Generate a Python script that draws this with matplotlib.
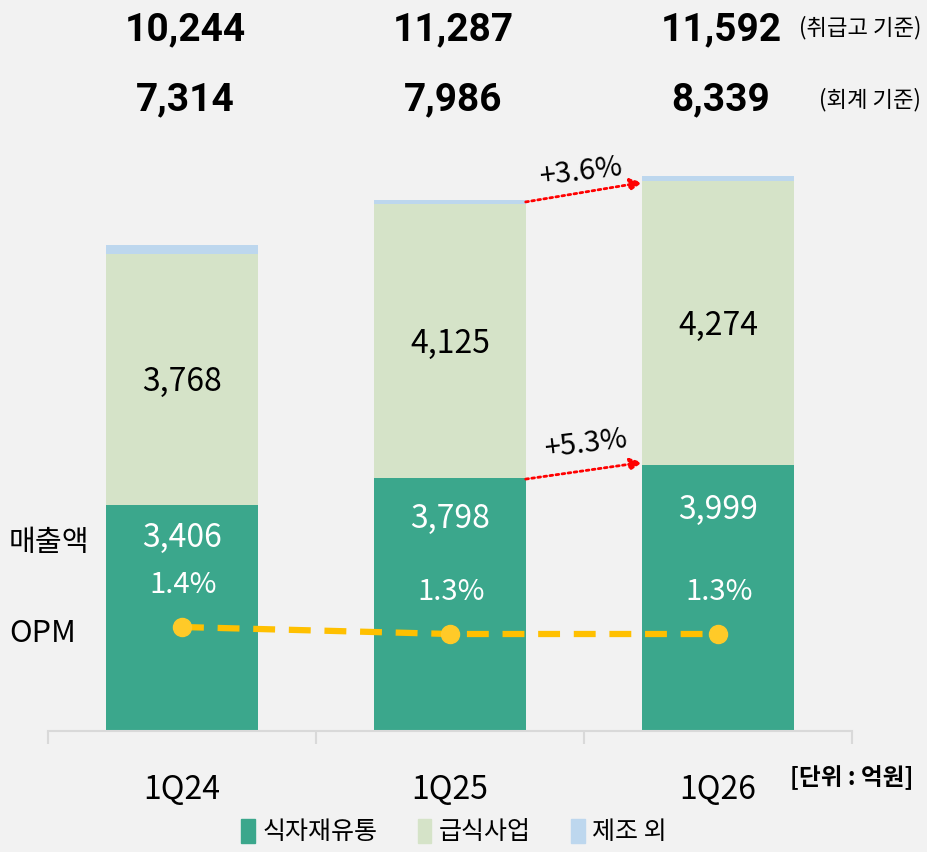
import matplotlib
matplotlib.use("Agg")
import matplotlib.pyplot as plt
from matplotlib.patches import Patch
import numpy as np

plt.rcParams['font.family'] = ['Noto Sans CJK KR', 'DejaVu Sans']

quarters = ["1Q24", "1Q25", "1Q26"]
food_dist = [3406, 3798, 3999]      # 식자재유통
catering = [3768, 4125, 4274]       # 급식사업
manufacturing = [140, 63, 66]       # 제조 외
totals = [7314, 7986, 8339]         # 회계 기준
gross = [10244, 11287, 11592]       # 취급고 기준
opm = [1.4, 1.3, 1.3]
opm_labels = ["1.4%", "1.3%", "1.3%"]

bg = "#f2f2f2"
c_dist = "#3ba78c"
c_cat = "#d5e3c8"
c_man = "#bdd7ee"

W, H = 928, 852
fig = plt.figure(figsize=(W / 100, H / 100), dpi=100, facecolor=bg)
ax = fig.add_axes([48 / W, 121 / H, 804 / W, 731 / H], facecolor=bg)

x = np.arange(len(quarters))
bw = 0.565
ax.bar(x, food_dist, bw, color=c_dist, zorder=2)
ax.bar(x, catering, bw, bottom=food_dist, color=c_cat, zorder=2)
bottom3 = np.array(food_dist) + np.array(catering)
ax.bar(x, manufacturing, bw, bottom=bottom3, color=c_man, zorder=2)

ax.set_xlim(-0.5, 2.5)
ax.set_ylim(0, 731 / 0.0665)
for s in ["top", "right", "left"]:
    ax.spines[s].set_visible(False)
ax.spines["bottom"].set_color("#d9d9d9")
ax.spines["bottom"].set_linewidth(1.5)
ax.set_yticks([])
ax.set_xticks(x)
ax.set_xticklabels(quarters, fontsize=23)
ax.tick_params(axis="x", which="major", length=0, pad=31)
ax.set_xticks([-0.5, 0.5, 1.5, 2.5], minor=True)
ax.tick_params(axis="x", which="minor", length=9, width=1.5, color="#d9d9d9")

# segment labels
offs = [33, 40, 45]
for i in range(3):
    ax.annotate(f"{food_dist[i]:,}", (x[i], food_dist[i]), xytext=(0, -offs[i] * 0.72),
                textcoords="offset points", ha="center", va="center",
                fontsize=23, color="white", zorder=3)
    ax.text(x[i], food_dist[i] + catering[i] / 2 - 45, f"{catering[i]:,}",
            ha="center", va="center", fontsize=23, color="black", zorder=3)

# headline numbers
for i in range(3):
    xf = (48 + 268 * (i + 0.5)) / W
    fig.text(xf + 3 / W, 1 - 30 / H, f"{gross[i]:,}", ha="center", va="center",
             fontsize=28, fontweight="bold", family="Roboto")
    fig.text(xf + 3 / W, 1 - 100 / H, f"{totals[i]:,}", ha="center", va="center",
             fontsize=28, fontweight="bold", family="Roboto")
fig.text(921 / W, 1 - 28 / H, "(취급고 기준)", ha="right", va="center", fontsize=16)
fig.text(921 / W, 1 - 100 / H, "(회계 기준)", ha="right", va="center", fontsize=16)

# growth arrows
arrow_kw = dict(arrowstyle="-|>", color="red", lw=2, linestyle=(0, (1, 1.2)),
                mutation_scale=18, shrinkA=0, shrinkB=0)
ax.annotate("", xy=(2 - bw / 2, totals[2] - 90), xytext=(1 + bw / 2, totals[1] - 30),
            arrowprops=arrow_kw, zorder=4)
ax.annotate("", xy=(2 - bw / 2, food_dist[2] + 40), xytext=(1 + bw / 2, food_dist[1] - 10),
            arrowprops=arrow_kw, zorder=4)
ax.text(1.5 - 0.01, (totals[1] + totals[2]) / 2 + 250, "+3.6%", ha="center", va="center",
        fontsize=21, rotation=7)
ax.text(1.5 + 0.01, (food_dist[1] + food_dist[2]) / 2 + 420, "+5.3%", ha="center", va="center",
        fontsize=21, rotation=7)

# OPM line
ax2 = ax.twinx()
ax2.set_ylim((725 - 731) / 70, 725 / 70)
ax2.axis("off")
ax2.plot(x, opm, color="#ffc000", lw=4.5, linestyle=(0, (3.5, 2.2)), zorder=5)
ax2.plot(x, opm, linestyle="none", marker="o", markersize=13,
         markerfacecolor="#ffca28", markeredgecolor="#ffca28", zorder=6)
for i in range(3):
    ax2.annotate(opm_labels[i], (x[i], opm[i]), xytext=(1, 30), textcoords="offset points",
                 ha="center", va="center", fontsize=21, color="white")

fig.text(9 / W, 1 - 543 / H, "매출액", ha="left", va="center", fontsize=21)
fig.text(9 / W, 1 - 633 / H, "OPM", ha="left", va="center", fontsize=22)
fig.text(913 / W, 1 - 778 / H, "[단위 : 억원]", ha="right", va="center", fontsize=17,
         fontweight="bold")

handles = [Patch(color=c_dist, label="식자재유통"),
           Patch(color=c_cat, label="급식사업"),
           Patch(color=c_man, label="제조 외")]
fig.legend(handles=handles, loc="center", bbox_to_anchor=(454 / W, 1 - 832 / H), ncol=3,
           frameon=False, fontsize=18, handlelength=0.55, handleheight=1.1,
           handletextpad=0.3, columnspacing=1.6)

fig.savefig("out.png", dpi=100, facecolor=bg)
